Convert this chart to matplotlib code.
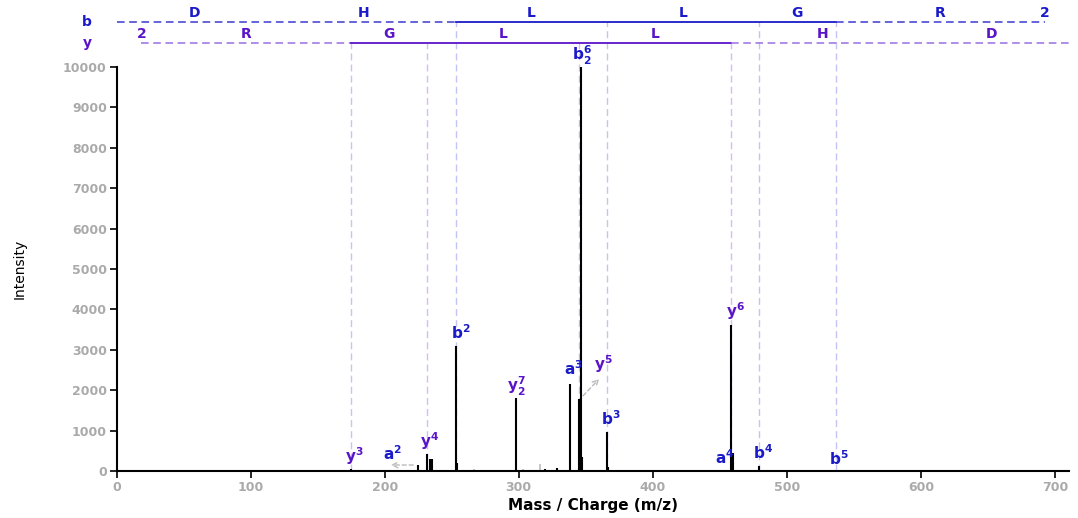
import matplotlib
matplotlib.use("Agg")
import matplotlib.pyplot as plt
import numpy as np

# observed peaks (m/z, intensity)
peak_mz = [174.7, 207.2, 224.6, 231.8, 233.8, 235.5, 250.2, 253.0, 254.0, 289.2,
           298.0, 319.6, 328.9, 338.0, 344.9, 346.1, 347.4, 365.6, 366.8,
           458.4, 459.5, 460.5, 478.9, 536.3]
peak_int = [60, 25, 150, 420, 290, 290, 30, 3100, 200, 25,
            1810, 50, 80, 2150, 1780, 10000, 350, 960, 100,
            3610, 450, 30, 130, 15]

# unassigned / noise peaks drawn in grey
noise_mz = [101.8, 109.0, 135.0, 159.0, 266.9, 303.0, 309.7, 315.9]
noise_int = [15, 15, 15, 15, 55, 40, 30, 180]

# fragment ladders
b_residues = ["D", "H", "L", "L", "G", "R", "2"]
b_bounds = [0.0, 116.0, 253.1, 366.2, 479.3, 536.3, 692.4]
y_residues = ["2", "R", "G", "L", "L", "H", "D"]
y_bounds = [18.6, 174.7, 231.8, 344.9, 458.4, 595.5, 710.5]
b_matched = [253.1, 366.2, 479.3, 536.3]
y_matched = [174.7, 231.8, 344.9, 458.4]

# ion annotations: text, series, label x, label y (baseline)
ion_text = [r"$\mathbf{y^3}$", r"$\mathbf{a^2}$", r"$\mathbf{y^4}$", r"$\mathbf{b^2}$",
            r"$\mathbf{y_2^7}$", r"$\mathbf{a^3}$", r"$\mathbf{y^5}$", r"$\mathbf{b_2^6}$",
            r"$\mathbf{b^3}$", r"$\mathbf{y^6}$", r"$\mathbf{a^4}$", r"$\mathbf{b^4}$",
            r"$\mathbf{b^5}$"]
ion_kind = ["y", "b", "y", "b", "y", "b", "y", "b", "b", "y", "b", "b", "b"]
ion_x = [177.1, 206.2, 233.8, 257.0, 298.0, 340.5, 362.9, 347.2, 368.8, 461.3, 453.9, 482.2, 538.9]
ion_y = [230, 275, 600, 3270, 1960, 2380, 2500, 10170, 1140, 3810, 175, 300, 150]

B_COL = "#1a1ac8"
Y_COL = "#5a14c8"
B_LINE = "#c4c4f4"
Y_LINE = "#d4bcf6"

fig = plt.figure(figsize=(10.78, 5.18), dpi=100)
ax = fig.add_axes([0.1081, 0.0907, 0.8836, 0.78])

# matched ion guide lines
b_top = 11114
y_top = 10594
ax.vlines(b_matched, 0, b_top, colors=B_LINE, linestyles=(0, (5, 3)), lw=1, clip_on=False, zorder=1)
ax.vlines(y_matched, 0, y_top, colors=Y_LINE, linestyles=(0, (5, 3)), lw=1, clip_on=False, zorder=1)

# spectrum
ax.vlines(noise_mz, 0, noise_int, colors="#bbbbbb", lw=1.2, zorder=2)
ax.vlines(peak_mz, 0, peak_int, colors="black", lw=1.5, zorder=3)

# sequence ladders above the plot
for bounds, residues, level, col, dcol, name in [
        (b_bounds, b_residues, b_top, B_COL, "#3a3ad0", "b"),
        (y_bounds, y_residues, y_top, Y_COL, "#9a70e0", "y")]:
    matched = b_matched if name == "b" else y_matched
    lo, hi = min(matched), max(matched)
    ax.plot([bounds[0], lo], [level, level], color=dcol, lw=1.1, ls=(0, (5, 3)), clip_on=False)
    ax.plot([lo, hi], [level, level], color=col, lw=1.3, clip_on=False)
    ax.plot([hi, bounds[-1]], [level, level], color=dcol, lw=1.1, ls=(0, (5, 3)), clip_on=False)
    for i, res in enumerate(residues):
        if name == "b" and i == len(residues) - 1:
            xm = bounds[-1]
        elif name == "y" and i == 0:
            xm = bounds[0]
        elif name == "b":
            xm = (bounds[i] + bounds[i + 1]) / 2
        else:
            xm = (bounds[i - 1] + bounds[i]) / 2
        ax.text(xm, level + 40, res, color=col, fontsize=10, fontweight="bold",
                ha="center", va="bottom", clip_on=False)
    ax.text(-22, level, name, color=col, fontsize=10, fontweight="bold",
            ha="center", va="center", clip_on=False)

# ion labels
for t, k, x, y in zip(ion_text, ion_kind, ion_x, ion_y):
    ax.text(x, y, t, color=B_COL if k == "b" else Y_COL, fontsize=11,
            ha="center", va="baseline", clip_on=False, zorder=4)

# displaced label connectors
arrow = dict(arrowstyle="->", color="#bbbbbb", lw=1, ls=(0, (3, 2)))
ax.annotate("", xy=(202.5, 149), xytext=(223.4, 149), arrowprops=arrow)
ax.annotate("", xy=(361.4, 2330), xytext=(346.5, 1810), arrowprops=arrow)

ax.set_xlim(0, 710.5)
ax.set_ylim(0, 10000)
ax.set_xticks(np.arange(0, 701, 100))
ax.set_yticks(np.arange(0, 10001, 1000))
ax.spines["top"].set_visible(False)
ax.spines["right"].set_visible(False)
ax.spines["left"].set_linewidth(1.5)
ax.spines["bottom"].set_linewidth(1.5)
ax.tick_params(length=5, width=1.2, pad=2, colors="black", labelcolor="#aaaaaa", labelsize=9)
for lab in ax.get_xticklabels() + ax.get_yticklabels():
    lab.set_fontweight("bold")

ax.set_xlabel("Mass / Charge (m/z)", fontsize=11, fontweight="bold", labelpad=3)
ax.set_ylabel("Intensity", fontsize=10, labelpad=26)

plt.savefig("out.png", dpi=100)
plt.close()
